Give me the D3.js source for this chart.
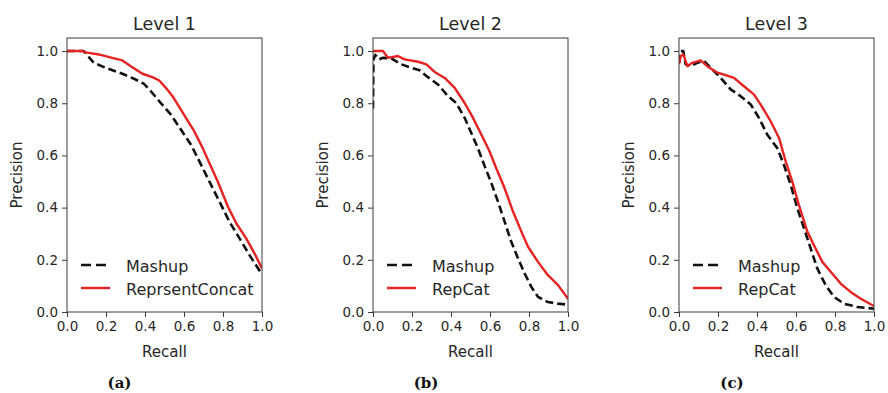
<!DOCTYPE html>
<html>
<head>
<meta charset="utf-8">
<script src="https://cdn.jsdelivr.net/npm/d3@7"></script>
<style>
  body { margin: 0; background: #fff; }
  text { font-family: "DejaVu Sans", sans-serif; fill: #262626; }
</style>
</head>
<body>
<svg id="chart" width="888" height="393"></svg>
<script>
// values (recall, precision)
var levels = ["Level 1", "Level 2", "Level 3"];
var tags = ["(a)", "(b)", "(c)"];
var seriesNames = [["Mashup", "ReprsentConcat"], ["Mashup", "RepCat"], ["Mashup", "RepCat"]];
var ticks = [0, 0.2, 0.4, 0.6, 0.8, 1.0];

var l1MashupRecall = [0, 0.086, 0.137, 0.198, 0.284, 0.352, 0.395, 0.43, 0.481, 0.533, 0.584, 0.636, 0.679, 0.73, 0.782, 0.833, 0.885, 0.936, 1.0];
var l1MashupPrecision = [1.0, 1.0, 0.955, 0.936, 0.913, 0.891, 0.874, 0.846, 0.801, 0.756, 0.699, 0.641, 0.577, 0.5, 0.423, 0.346, 0.282, 0.218, 0.144];
var l1ConcatRecall = [0, 0.077, 0.103, 0.163, 0.232, 0.284, 0.335, 0.387, 0.438, 0.473, 0.507, 0.541, 0.576, 0.61, 0.653, 0.696, 0.73, 0.773, 0.825, 0.868, 0.919, 0.962, 1.0];
var l1ConcatPrecision = [1.0, 1.0, 0.994, 0.987, 0.974, 0.964, 0.938, 0.913, 0.9, 0.887, 0.859, 0.827, 0.785, 0.744, 0.692, 0.628, 0.571, 0.5, 0.404, 0.34, 0.282, 0.224, 0.167];

var l2MashupRecall = [0, 0.002, 0.005, 0.012, 0.03, 0.051, 0.094, 0.145, 0.197, 0.239, 0.282, 0.333, 0.385, 0.427, 0.47, 0.504, 0.538, 0.573, 0.607, 0.641, 0.675, 0.709, 0.744, 0.778, 0.812, 0.846, 0.897, 0.949, 1.0];
var l2MashupPrecision = [0.78, 0.95, 0.974, 0.985, 0.968, 0.974, 0.972, 0.949, 0.936, 0.926, 0.9, 0.872, 0.827, 0.801, 0.744, 0.686, 0.628, 0.558, 0.494, 0.423, 0.346, 0.269, 0.205, 0.147, 0.096, 0.058, 0.038, 0.032, 0.028];
var l2RepCatRecall = [0, 0.051, 0.077, 0.128, 0.162, 0.231, 0.274, 0.316, 0.368, 0.419, 0.47, 0.513, 0.556, 0.598, 0.632, 0.675, 0.718, 0.761, 0.795, 0.846, 0.897, 0.949, 1.0];
var l2RepCatPrecision = [1.0, 1.0, 0.974, 0.981, 0.968, 0.959, 0.949, 0.92, 0.897, 0.859, 0.801, 0.744, 0.679, 0.615, 0.551, 0.474, 0.385, 0.308, 0.25, 0.192, 0.141, 0.103, 0.051];

var l3MashupRecall = [0, 0.009, 0.022, 0.034, 0.06, 0.094, 0.128, 0.162, 0.214, 0.265, 0.316, 0.368, 0.41, 0.453, 0.504, 0.538, 0.573, 0.607, 0.641, 0.675, 0.709, 0.752, 0.795, 0.846, 0.915, 1.0];
var l3MashupPrecision = [0.955, 1.0, 1.0, 0.949, 0.942, 0.955, 0.962, 0.936, 0.897, 0.853, 0.827, 0.795, 0.744, 0.679, 0.628, 0.564, 0.487, 0.397, 0.321, 0.244, 0.167, 0.103, 0.058, 0.032, 0.019, 0.013];
var l3RepCatRecall = [0, 0.009, 0.022, 0.043, 0.068, 0.111, 0.145, 0.197, 0.231, 0.282, 0.333, 0.385, 0.419, 0.47, 0.513, 0.547, 0.581, 0.615, 0.658, 0.692, 0.735, 0.778, 0.829, 0.88, 0.932, 1.0];
var l3RepCatPrecision = [0.949, 0.981, 0.987, 0.942, 0.955, 0.964, 0.942, 0.917, 0.91, 0.897, 0.865, 0.833, 0.795, 0.731, 0.667, 0.577, 0.5, 0.41, 0.308, 0.256, 0.192, 0.154, 0.109, 0.077, 0.051, 0.023];

var recalls = [[l1MashupRecall, l1ConcatRecall], [l2MashupRecall, l2RepCatRecall], [l3MashupRecall, l3RepCatRecall]];
var precisions = [[l1MashupPrecision, l1ConcatPrecision], [l2MashupPrecision, l2RepCatPrecision], [l3MashupPrecision, l3RepCatPrecision]];

var svg = d3.select("#chart");
var lefts = [67, 373, 679],
  plotW = 195,
  plotTop = 38, plotBottom = 312,
  axisColor = "#3a3a3a";

var styles = [
  { stroke: "#111", dash: "8,4", width: 2.6 },
  { stroke: "#e62222", dash: null, width: 2.4 }
];

var y = d3.scaleLinear().domain([0, 1.05]).range([plotBottom, plotTop]);
var defs = svg.append("defs");

levels.forEach(function (level, i) {
  var x = d3.scaleLinear().domain([0, 1]).range([lefts[i], lefts[i] + plotW]);
  var g = svg.append("g");

  defs.append("clipPath").attr("id", "clip" + i)
    .append("rect")
    .attr("x", lefts[i]).attr("y", plotTop)
    .attr("width", plotW).attr("height", plotBottom - plotTop);

  var line = d3.line()
    .x(function (d) { return x(d[0]); })
    .y(function (d) { return y(d[1]); });

  // curves
  var lines = g.append("g").attr("clip-path", "url(#clip" + i + ")");
  [0, 1].forEach(function (s) {
    var pts = d3.zip(recalls[i][s], precisions[i][s]);
    lines.append("path")
      .datum(pts)
      .attr("d", line)
      .attr("fill", "none")
      .attr("stroke", styles[s].stroke)
      .attr("stroke-width", styles[s].width)
      .attr("stroke-dasharray", styles[s].dash)
      .attr("stroke-linejoin", "round");
  });

  // frame
  g.append("rect")
    .attr("x", lefts[i]).attr("y", plotTop)
    .attr("width", plotW).attr("height", plotBottom - plotTop)
    .attr("fill", "none").attr("stroke", axisColor).attr("stroke-width", 1);

  var xAxis = g.append("g")
    .attr("transform", "translate(0," + plotBottom + ")")
    .call(d3.axisBottom(x).tickValues(ticks).tickFormat(d3.format(".1f")).tickSize(5).tickPadding(4));
  var yAxis = g.append("g")
    .attr("transform", "translate(" + lefts[i] + ",0)")
    .call(d3.axisLeft(y).tickValues(ticks).tickFormat(d3.format(".1f")).tickSize(5).tickPadding(4));
  [xAxis, yAxis].forEach(function (a) {
    a.select(".domain").remove();
    a.selectAll(".tick line").attr("stroke", axisColor);
    a.selectAll(".tick text")
      .attr("font-family", "DejaVu Sans")
      .attr("font-size", 13.5)
      .attr("fill", "#262626");
  });

  var cx = lefts[i] + plotW / 2;
  g.append("text").attr("x", cx).attr("y", 30)
    .attr("text-anchor", "middle").attr("font-size", 17.5).text(level);
  g.append("text").attr("x", cx).attr("y", 357)
    .attr("text-anchor", "middle").attr("font-size", 15).text("Recall");
  g.append("text")
    .attr("transform", "translate(" + (lefts[i] - 45) + "," + ((plotTop + plotBottom) / 2) + ") rotate(-90)")
    .attr("text-anchor", "middle").attr("font-size", 15).text("Precision");

  // legend
  var leg = g.append("g").attr("transform", "translate(" + (lefts[i] + 14) + ",265)");
  [0, 1].forEach(function (s) {
    leg.append("line")
      .attr("x1", 0).attr("x2", 29)
      .attr("y1", s * 23).attr("y2", s * 23)
      .attr("stroke", styles[s].stroke)
      .attr("stroke-width", styles[s].width)
      .attr("stroke-dasharray", styles[s].dash ? "10,5" : null);
    leg.append("text")
      .attr("x", 45).attr("y", s * 23 + 6.5)
      .attr("font-size", 16)
      .text(seriesNames[i][s]);
  });

  g.append("text").attr("x", [119.5, 426, 732][i]).attr("y", 388)
    .attr("text-anchor", "middle")
    .style("font-family", "'DejaVu Serif', serif")
    .attr("font-weight", "bold").attr("font-size", 15)
    .style("fill", "#111")
    .text(tags[i]);
});
</script>
</body>
</html>
